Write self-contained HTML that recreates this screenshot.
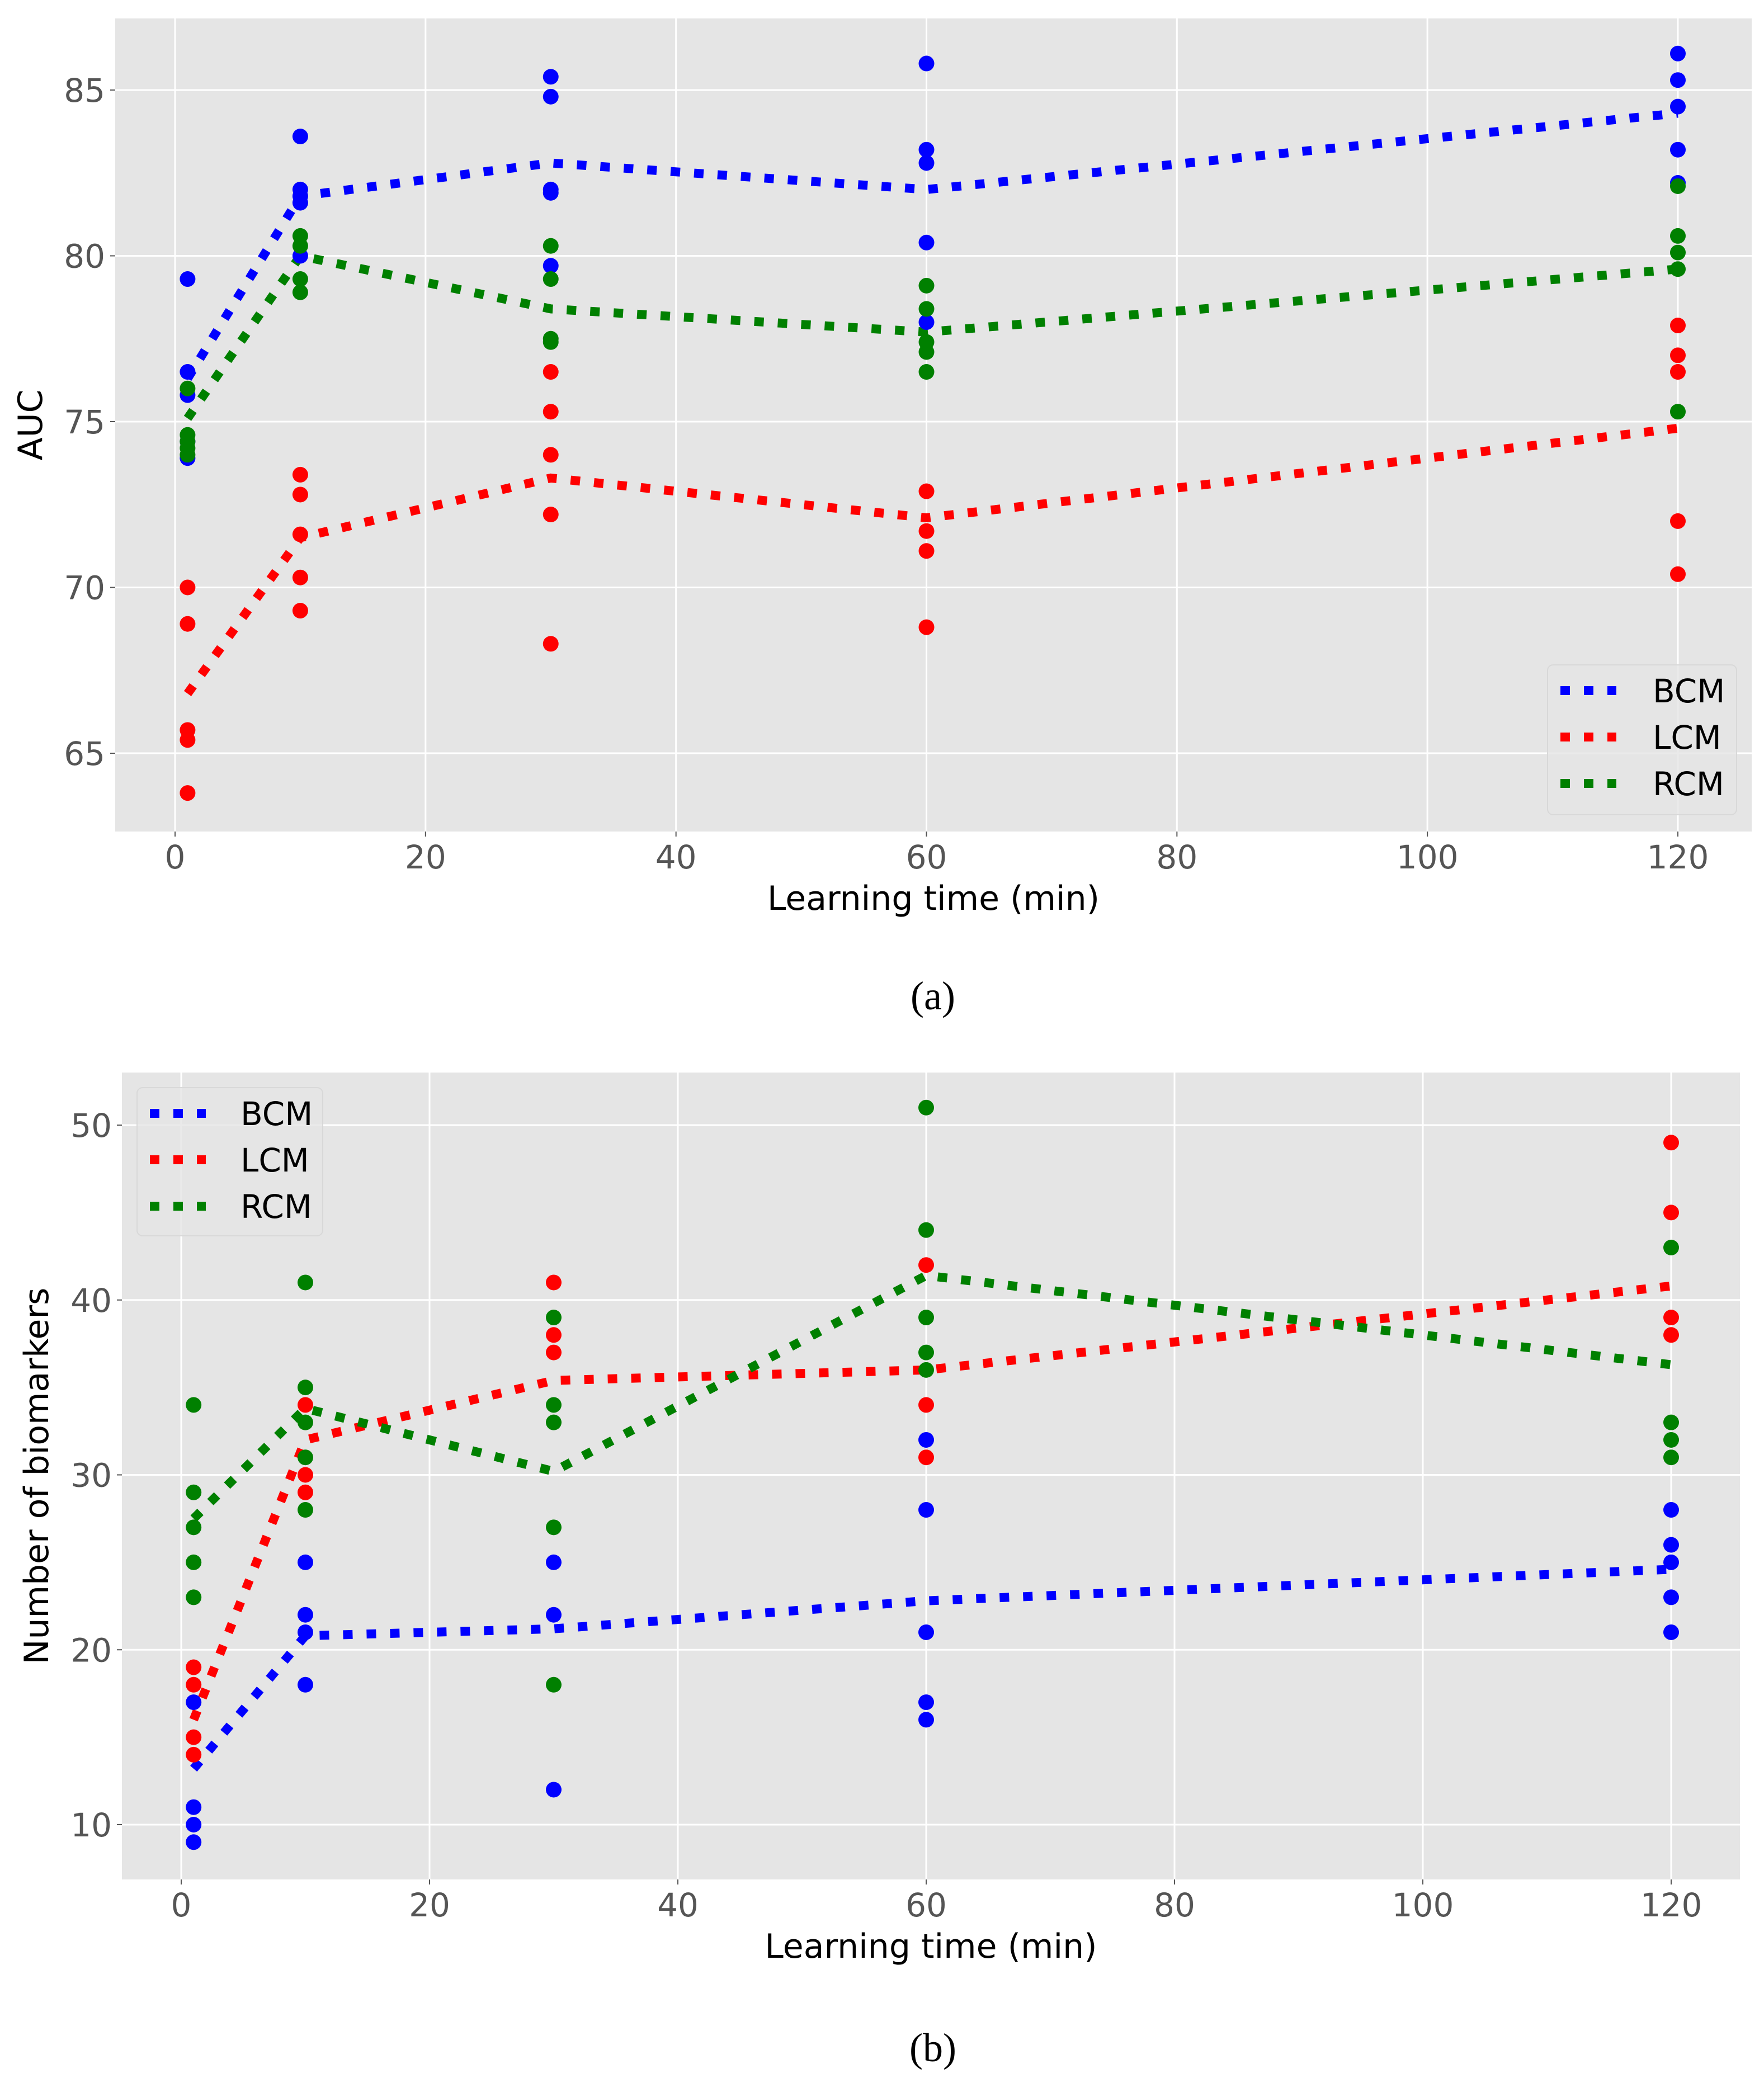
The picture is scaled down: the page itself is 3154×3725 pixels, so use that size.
<!DOCTYPE html>
<html><head><meta charset="utf-8"><style>
html,body{margin:0;padding:0;background:#fff;}
svg{display:block;}
</style></head><body>
<svg id="fig" width="3154" height="3725" viewBox="0 0 3154 3725" xmlns="http://www.w3.org/2000/svg" font-family="'DejaVu Sans','Liberation Sans',sans-serif"></svg>
<script>
// ---- data: shared x categories
const times = [1, 10, 30, 60, 120];
// Plot (a) AUC points per time
const aucBCM = [[79.3,76.5,75.8,74.4,73.9],[83.6,82.0,81.8,81.6,80.0],[85.4,84.8,82.0,81.9,79.7],[85.8,83.2,82.8,80.4,78.0],[86.1,85.3,84.5,83.2,82.2]];
const aucLCM = [[70.0,68.9,65.7,65.4,63.8],[73.4,72.8,71.6,70.3,69.3],[76.5,75.3,74.0,72.2,68.3],[72.9,71.7,71.1,68.8],[77.9,77.0,76.5,72.0,70.4]];
const aucRCM = [[76.0,74.6,74.4,74.2,74.0],[80.6,80.3,79.3,78.9],[80.3,79.3,77.5,77.4],[79.1,78.4,77.4,77.1,76.5],[82.1,80.6,80.1,79.6,75.3]];
const aucMeanBCM = [76.3, 81.8, 82.8, 82.0, 84.3];
const aucMeanLCM = [66.8, 71.5, 73.3, 72.1, 74.8];
const aucMeanRCM = [75.1, 80.0, 78.4, 77.7, 79.6];
const aucTicks = [65, 70, 75, 80, 85];
// Plot (b) number of biomarkers
const nbBCM = [[17,11,10,9],[25,22,21,18],[25,22,12],[32,28,21,17,16],[28,26,25,23,21]];
const nbLCM = [[19,18,15,14],[34,30,29],[41,38,37],[42,34,31],[49,45,39,38]];
const nbRCM = [[34,29,27,25,23],[41,35,33,31,28],[39,34,33,27,18],[51,44,39,37,36],[43,33,32,31]];
const nbMeanBCM = [13.2, 20.8, 21.2, 22.8, 24.6];
const nbMeanLCM = [16.0, 32.0, 35.4, 36.0, 40.8];
const nbMeanRCM = [27.5, 33.8, 30.2, 41.4, 36.3];
const nbTicks = [10, 20, 30, 40, 50];
const xTicks = [0, 20, 40, 60, 80, 100, 120];
const seriesNames = ['BCM','LCM','RCM'];
const seriesColors = ['#0000ff','#ff0000','#008000'];

const NS = 'http://www.w3.org/2000/svg';
const svg = document.getElementById('fig');
function mk(tag, attrs, parent){
  const e = document.createElementNS(NS, tag);
  for (const k in attrs) e.setAttribute(k, attrs[k]);
  (parent||svg).appendChild(e); return e;
}

function drawPlot(cfg){
  const g = mk('g', {});
  
  
  const X = v => cfg.x0px + (v - 0) * (cfg.x120px - cfg.x0px) / 120;
  const Y = v => cfg.yA + (cfg.vA - v) * (cfg.yB - cfg.yA) / (cfg.vA - cfg.vB);
  const bg = mk('rect', {x:cfg.L, y:cfg.T, width:cfg.R-cfg.L, height:cfg.B-cfg.T, fill:'#e5e5e5'}, g);
  
  
  xTicks.forEach(t => {
    const gl = mk('line', {x1:X(t), x2:X(t), y1:cfg.T, y2:cfg.B, stroke:'#fff', 'stroke-width':3}, g);
    
    
    mk('line', {x1:X(t), x2:X(t), y1:cfg.B, y2:cfg.B+9, stroke:'#555', 'stroke-width':2}, g);
    const tl = mk('text', {x:X(t), y:cfg.B+66, 'text-anchor':'middle', 'font-size':58, fill:'#555'}, g);
    tl.textContent = t;
    
    
  });
  cfg.yTicks.forEach(t => {
    const gl = mk('line', {x1:cfg.L, x2:cfg.R, y1:Y(t), y2:Y(t), stroke:'#fff', 'stroke-width':3}, g);
    
    
    mk('line', {x1:cfg.L-9, x2:cfg.L, y1:Y(t), y2:Y(t), stroke:'#555', 'stroke-width':2}, g);
    const tl = mk('text', {x:cfg.L-18, y:Y(t)+21, 'text-anchor':'end', 'font-size':58, fill:'#555'}, g);
    tl.textContent = t;
    
    
  });
  cfg.means.forEach((m, si) => {
    const pts = m.map((v,i) => X(times[i]) + ',' + Y(v)).join(' ');
    const pl = mk('polyline', {points:pts, fill:'none', stroke:seriesColors[si], 'stroke-width':16, 'stroke-dasharray':'17 25'}, g);
    
    
  });
  cfg.pts.forEach((ser, si) => {
    ser.forEach((arr, i) => arr.forEach(v => {
      const c = mk('circle', {cx:X(times[i]), cy:Y(v), r:14, fill:seriesColors[si]}, g);
      
      
    }));
  });
  const lg = mk('g', {}, g);
  
  
  mk('rect', {x:cfg.leg.x, y:cfg.leg.y, width:cfg.leg.w, height:cfg.leg.h, rx:10, fill:'#e5e5e5', stroke:'#d8d8d8', 'stroke-width':2, 'fill-opacity':0.8}, lg);
  seriesNames.forEach((n, si) => {
    const ry = cfg.leg.y + 46 + si * 83;
    const ent = mk('g', {}, lg);
    
    
    mk('line', {x1:cfg.leg.x+23, x2:cfg.leg.x+123, y1:ry, y2:ry, stroke:seriesColors[si], 'stroke-width':16, 'stroke-dasharray':'17 25'}, ent);
    const t = mk('text', {x:cfg.leg.x+cfg.leg.tx, y:ry+21, 'font-size':58, fill:'#000'}, ent);
    t.textContent = n;
  });
  const xl = mk('text', {x:(cfg.L+cfg.R)/2, y:cfg.B+140, 'text-anchor':'middle', 'font-size':60, fill:'#000'}, g);
  xl.textContent = 'Learning time (min)';
  
  
  const yl = mk('text', {x:0, y:0, 'text-anchor':'middle', 'font-size':60, fill:'#000', transform:'translate(' + cfg.ylx + ',' + (cfg.T+cfg.B)/2 + ') rotate(-90)'}, g);
  yl.textContent = cfg.ylabel;
  
  
  const cap = mk('text', {x:1668, y:cfg.capY, 'text-anchor':'middle', 'font-size':72, fill:'#000', 'font-family':"'Liberation Serif',serif"}, g);
  cap.textContent = cfg.caption;
  
  
}

drawPlot({name:'auc-chart', L:206, R:3132, T:33, B:1487, x0px:313, x120px:3000,
  vA:85, yA:161, vB:65, yB:1347, yTicks:aucTicks,
  means:[aucMeanBCM, aucMeanLCM, aucMeanRCM], pts:[aucBCM, aucLCM, aucRCM],
  leg:{x:2767, y:1189, w:338, h:268, tx:188}, ylabel:'AUC', ylx:75, caption:'(a)', capY:1805});
drawPlot({name:'biomarkers-chart', L:218, R:3111, T:1918, B:3361, x0px:324, x120px:2988,
  vA:50, yA:2012, vB:10, yB:3263, yTicks:nbTicks,
  means:[nbMeanBCM, nbMeanLCM, nbMeanRCM], pts:[nbBCM, nbLCM, nbRCM],
  leg:{x:245, y:1945, w:332, h:265, tx:185}, ylabel:'Number of biomarkers', ylx:86, caption:'(b)', capY:3686});
</script>
</body></html>
